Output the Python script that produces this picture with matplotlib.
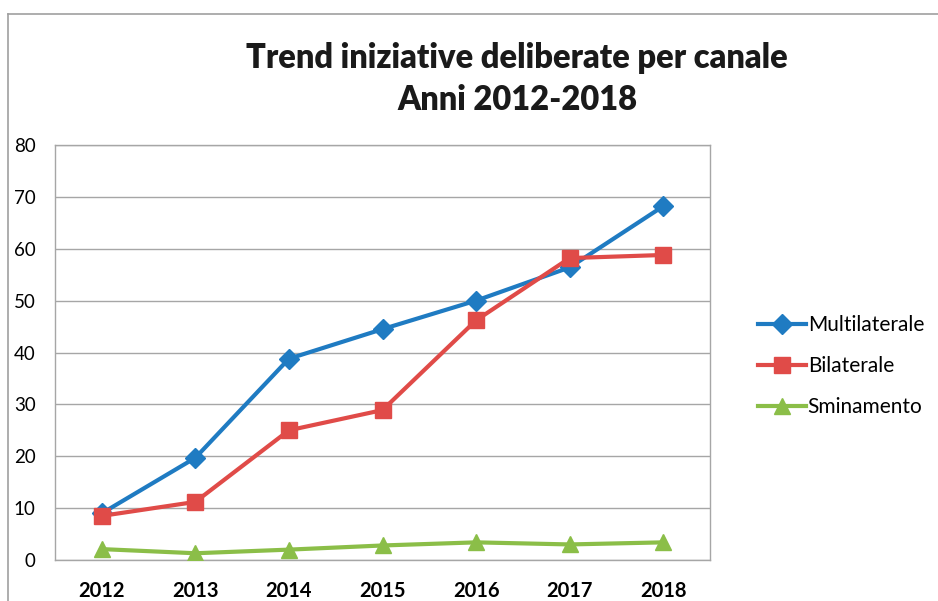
import numpy as np
import matplotlib
matplotlib.use("Agg")
from matplotlib import pyplot as plt
from matplotlib.lines import Line2D

# data
years = ['2012', '2013', '2014', '2015', '2016', '2017', '2018']
multilaterale = [9.0, 19.7, 38.8, 44.5, 50.0, 56.4, 68.2]
bilaterale = [8.5, 11.2, 25.0, 28.9, 46.2, 58.2, 58.8]
sminamento = [2.1, 1.3, 2.0, 2.8, 3.4, 3.0, 3.4]
y_ticks = [0, 10, 20, 30, 40, 50, 60, 70, 80]

plt.rcParams['font.family'] = ['Lato', 'DejaVu Sans']

W, H = 938, 601
fig = plt.figure(figsize=(W / 100, H / 100), dpi=100)

# outer chart frame (left and top edges visible)
frame_col = '#A0A0A0'
fig.add_artist(Line2D([8 / W, 8 / W], [0, 1 - 14 / H], color=frame_col, lw=1.2))
fig.add_artist(Line2D([8 / W, 1], [1 - 14 / H, 1 - 14 / H], color=frame_col, lw=1.2))

left, right, top, bottom = 55, 710, 145, 560
ax = fig.add_axes([left / W, 1 - bottom / H, (right - left) / W, (bottom - top) / H])

x = np.arange(len(years))
series = [
    ('Multilaterale', multilaterale, '#1F7BC2', 'D', 10),
    ('Bilaterale', bilaterale, '#E04B48', 's', 11.5),
    ('Sminamento', sminamento, '#8BBE48', '^', 11.5),
]
for name, vals, col, mk, ms in series:
    ax.plot(x, vals, color=col, lw=3, marker=mk, markersize=ms, label=name, zorder=3)

ax.set_xlim(-0.5, len(years) - 0.5)
ax.set_ylim(0, 80)
ax.set_yticks(y_ticks)
ax.set_xticks(x)
ax.set_xticklabels(years, fontsize=14.5, fontweight='bold')
ax.tick_params(axis='y', labelsize=13.5, length=0, pad=14)
ax.tick_params(axis='x', length=0, pad=15)
ax.grid(axis='y', color='#A6A6A6', lw=1)
ax.set_axisbelow(True)
for s in ax.spines.values():
    s.set_color('#A6A6A6')
    s.set_linewidth(1)

fig.text(517 / W, 1 - 58 / H, 'Trend iniziative deliberate per canale', ha='center', va='center',
         fontsize=23.5, fontweight='heavy', color='#1A1A1A')
fig.text(517 / W, 1 - 100 / H, 'Anni 2012-2018', ha='center', va='center',
         fontsize=23.5, fontweight='heavy', color='#1A1A1A')

fig.legend(loc='center left', bbox_to_anchor=(739 / W, 1 - 366 / H), frameon=False,
           fontsize=15, handlelength=2.3, handletextpad=0.1, labelspacing=1.0)

fig.savefig('out.png', dpi=100)
